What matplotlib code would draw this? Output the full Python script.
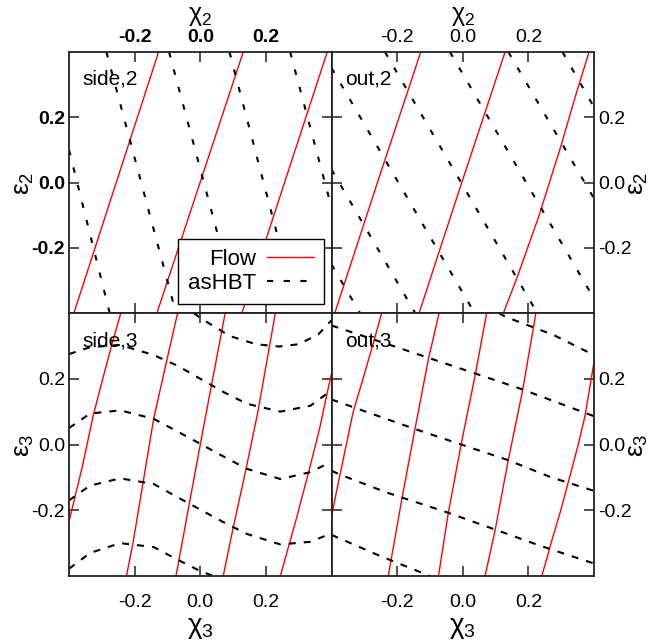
import matplotlib
matplotlib.use('Agg')
import matplotlib.pyplot as plt
from matplotlib.lines import Line2D

plt.rcParams['font.family'] = ['Liberation Sans', 'DejaVu Sans']
plt.rcParams['mathtext.fontset'] = 'custom'
plt.rcParams['mathtext.rm'] = 'Liberation Sans'
plt.rcParams['mathtext.it'] = 'Liberation Sans'
plt.rcParams['mathtext.bf'] = 'Liberation Sans:bold'
plt.rcParams['lines.scale_dashes'] = False

# ---------------- data (chi, epsilon) ----------------
ticks = [-0.2, 0.0, 0.2]
tick_labels = ['-0.2', '0.0', '0.2']
lim = (-0.4, 0.4)

# panel side,2
side2_flow = [
    ([-0.385, -0.127], [-0.4, 0.4]),
    ([-0.132, 0.131], [-0.4, 0.4]),
    ([0.127, 0.387], [-0.4, 0.4]),
]
side2_hbt = [
    ([-0.4, -0.276], [0.10, -0.4]),
    ([-0.286, -0.074], [0.4, -0.4]),
    ([-0.095, 0.117], [0.4, -0.4]),
    ([0.089, 0.297], [0.4, -0.4]),
    ([0.274, 0.4], [0.4, -0.076]),
]

# panel out,2
out2_flow = [
    ([-0.39, -0.26, -0.128], [-0.4, 0.0, 0.4]),
    ([-0.133, -0.003, 0.129], [-0.4, 0.0, 0.4]),
    ([0.124, 0.166, 0.232, 0.298, 0.345, 0.385], [-0.4, -0.29, -0.103, 0.108, 0.27, 0.4]),
]
out2_hbt = [
    ([-0.4, -0.313], [-0.251, -0.4]),
    ([-0.4, -0.145], [0.04, -0.4]),
    ([-0.4, 0.036], [0.351, -0.4]),
    ([-0.237, 0.227], [0.4, -0.4]),
    ([-0.039, 0.4], [0.4, -0.356]),
    ([0.139, 0.4], [0.4, -0.049]),
    ([0.304, 0.4], [0.4, 0.231]),
]

# panel side,3
side3_flow = [
    ([-0.4, -0.36, -0.326, -0.298, -0.268, -0.242], [-0.234, -0.07, 0.089, 0.197, 0.309, 0.4]),
    ([-0.225, -0.205, -0.142, -0.102, -0.069], [-0.4, -0.3, 0.078, 0.256, 0.4]),
    ([-0.074, 0.0, 0.076], [-0.4, 0.0, 0.4]),
    ([0.07, 0.099, 0.139, 0.175, 0.211, 0.229], [-0.4, -0.259, -0.077, 0.096, 0.299, 0.4]),
    ([0.244, 0.292, 0.330, 0.363, 0.389, 0.4], [-0.4, -0.229, -0.085, 0.045, 0.167, 0.215]),
]
side3_chi = [-0.4, -0.336, -0.244, -0.142, -0.07, 0.0, 0.07, 0.142, 0.244, 0.336, 0.4]
side3_hbt = [
    ([-0.02, 0.0, 0.09, 0.17, 0.24, 0.30, 0.36, 0.4], [0.4, 0.385, 0.33, 0.305, 0.298, 0.305, 0.335, 0.378]),
    (side3_chi, [0.275, 0.296, 0.303, 0.272, 0.24, 0.2, 0.16, 0.124, 0.1, 0.118, 0.165]),
    (side3_chi, [0.05, 0.094, 0.104, 0.078, 0.04, 0.002, -0.036, -0.074, -0.105, -0.084, -0.052]),
    (side3_chi, [-0.17, -0.125, -0.103, -0.12, -0.16, -0.198, -0.236, -0.272, -0.304, -0.296, -0.27]),
    ([-0.4, -0.336, -0.244, -0.142, -0.07, 0.0, 0.04], [-0.378, -0.33, -0.3, -0.312, -0.35, -0.385, -0.4]),
]

# panel out,3
out3_flow = [
    ([-0.4, -0.375, -0.334, -0.304, -0.275, -0.247], [-0.218, -0.096, 0.099, 0.2, 0.3, 0.4]),
    ([-0.227, -0.219, -0.186, -0.146, -0.105, -0.072], [-0.4, -0.355, -0.168, 0.045, 0.258, 0.4]),
    ([-0.074, -0.044, -0.005, 0.038, 0.073], [-0.4, -0.208, 0.0, 0.212, 0.4]),
    ([0.068, 0.099, 0.139, 0.182, 0.223], [-0.4, -0.259, -0.046, 0.162, 0.4]),
    ([0.241, 0.272, 0.297, 0.327, 0.352, 0.373, 0.4], [-0.4, -0.29, -0.206, -0.095, 0.0, 0.089, 0.25]),
]
out3_hbt = [
    ([0.11, 0.129, 0.277, 0.39, 0.4], [0.4, 0.389, 0.333, 0.277, 0.272]),
    ([-0.4, -0.171, 0.035, 0.175, 0.4], [0.362, 0.286, 0.217, 0.17, 0.086]),
    ([-0.4, -0.293, -0.151, -0.005, 0.134, 0.27, 0.4], [0.137, 0.099, 0.049, 0.0, -0.046, -0.1, -0.141]),
    ([-0.4, -0.375, -0.232, -0.049, 0.094, 0.236, 0.4], [-0.08, -0.091, -0.146, -0.206, -0.257, -0.308, -0.362]),
    ([-0.4, -0.393, -0.252, -0.1], [-0.275, -0.278, -0.339, -0.4]),
]

panel_names = ['side,2', 'out,2', 'side,3', 'out,3']
legend_labels = ['Flow', 'asHBT']

# ---------------- figure ----------------
W, H = 649, 644
fig = plt.figure(figsize=(W / 100, H / 100), dpi=100)

def px_rect(x0, y0, x1, y1):
    return [x0 / W, 1 - y1 / H, (x1 - x0) / W, (y1 - y0) / H]

ax_tl = fig.add_axes(px_rect(69, 52, 331.5, 313))
ax_tr = fig.add_axes(px_rect(331.5, 52, 594, 313))
ax_bl = fig.add_axes(px_rect(69, 313, 331.5, 576))
ax_br = fig.add_axes(px_rect(331.5, 313, 594, 576))

red = '#ff0000'
dash_top = (0, (4.0, 9.0))
dash_bot = (0, (5.0, 5.8))
dash_leg = (0, (4.5, 7.5))

def draw(ax, flow, hbt, name, dash):
    for cx, ce in flow:
        ax.plot(cx, ce, color=red, lw=1.0, solid_capstyle='butt')
    for cx, ce in hbt:
        ax.plot(cx, ce, color='black', lw=1.5, linestyle=dash, dash_capstyle='butt')
    ax.set_xlim(*lim)
    ax.set_ylim(*lim)
    ax.set_xticks(ticks)
    ax.set_yticks(ticks)
    ax.text(0.05, 1 - 33 / 262, name, transform=ax.transAxes, fontsize=15,
            va='baseline', ha='left')

draw(ax_tl, side2_flow, side2_hbt, panel_names[0], dash_top)
draw(ax_tr, out2_flow, out2_hbt, panel_names[1], dash_top)
draw(ax_bl, side3_flow, side3_hbt, panel_names[2], dash_bot)
draw(ax_br, out3_flow, out3_hbt, panel_names[3], dash_bot)

tick_col = '#333333'
for ax in (ax_tl, ax_tr, ax_bl, ax_br):
    ax.tick_params(which='both', direction='in', length=7.2, width=1.2, color=tick_col,
                   top=True, bottom=True, left=True, right=True,
                   labeltop=False, labelbottom=False, labelleft=False, labelright=False,
                   labelsize=14)
    for s in ax.spines.values():
        s.set_linewidth(1.3)
        s.set_color('#222222')

for ax in (ax_tl, ax_tr):
    ax.tick_params(axis='x', labeltop=True, pad=4.0)
    ax.set_xticklabels(tick_labels)
for ax in (ax_bl, ax_br):
    ax.tick_params(axis='x', labelbottom=True, pad=13.0)
    ax.set_xticklabels(tick_labels)
for ax in (ax_tl, ax_bl):
    ax.tick_params(axis='y', labelleft=True, pad=2.9)
    ax.set_yticklabels(tick_labels)
for ax in (ax_tr, ax_br):
    ax.tick_params(axis='y', labelright=True, pad=3.2)
    ax.set_yticklabels(tick_labels)

for lab in ax_tl.get_xticklabels() + ax_tl.get_yticklabels():
    lab.set_fontweight('bold')

# legend
handles = [Line2D([], [], color=red, lw=1.0),
           Line2D([], [], color='black', lw=1.5, linestyle=dash_leg)]
leg = ax_tl.legend(handles, legend_labels, loc='lower right',
                   bbox_to_anchor=(0.97, 0.034), fontsize=16, markerfirst=False,
                   frameon=True, fancybox=False, framealpha=1, edgecolor='black',
                   borderpad=0.45, labelspacing=0.15, handlelength=2.1,
                   handletextpad=0.5, borderaxespad=0.0)
leg.get_frame().set_linewidth(1.0)

# axis titles
lab_fs = 18
fig.text(200 / W, 1 - 4 / H, r'$\chi_2$', ha='center', va='top', fontsize=lab_fs)
fig.text(462.7 / W, 1 - 4 / H, r'$\chi_2$', ha='center', va='top', fontsize=lab_fs)
fig.text(200 / W, 1 - 615 / H, r'$\chi_3$', ha='center', va='top', fontsize=20)
fig.text(462.7 / W, 1 - 615 / H, r'$\chi_3$', ha='center', va='top', fontsize=20)
fig.text(24 / W, 1 - 183 / H, r'$\varepsilon_2$', ha='center', va='center', fontsize=19, rotation=90)
fig.text(24 / W, 1 - 445.7 / H, r'$\varepsilon_3$', ha='center', va='center', fontsize=19, rotation=90)
fig.text(638 / W, 1 - 183 / H, r'$\varepsilon_2$', ha='center', va='center', fontsize=19, rotation=90)
fig.text(638 / W, 1 - 445.7 / H, r'$\varepsilon_3$', ha='center', va='center', fontsize=19, rotation=90)

fig.savefig('out.png', dpi=100)
